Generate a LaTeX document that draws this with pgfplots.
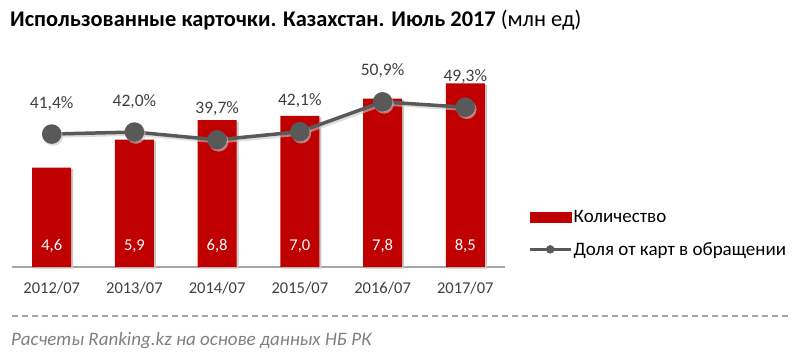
\documentclass[border=0pt]{standalone}
\usepackage{pgfplots}
\pgfplotsset{compat=1.18}
\usepackage{pgfplotstable}
\usepackage{fontspec}
\setmainfont{Carlito}
\definecolor{barred}{HTML}{C00000}
\definecolor{linegrey}{HTML}{595959}
\definecolor{txt}{HTML}{404040}
\definecolor{shadow}{HTML}{C8C8C8}
\pgfplotstableread{
x cnt share
0 4.6 41.4
1 5.9 42.0
2 6.8 39.7
3 7.0 42.1
4 7.8 50.9
5 8.5 49.3
}\data
\begin{document}
\begin{tikzpicture}
\useasboundingbox (0bp,0bp) rectangle (800bp,360bp);
\node[anchor=base west, inner sep=0pt, font=\fontsize{22.4bp}{26bp}\selectfont, text=black] at (10bp,333bp) {\textbf{Использованные карточки. Казахстан. Июль 2017} (млн ед)};
\begin{axis}[
  at={(12bp,93bp)}, anchor=south west, scale only axis,
  width=493bp, height=216bp,
  xmin=-0.48, xmax=5.48, ymin=0, ymax=10,
  axis x line*=bottom, axis y line=none,
  x axis line style={draw=gray!70, line width=1.2bp},
  xtick={0,1,2,3,4,5},
  xticklabels={2012/07,2013/07,2014/07,2015/07,2016/07,2017/07},
  major tick length=0pt,
  xticklabel style={anchor=base, yshift=-26bp, font=\fontsize{16.5bp}{19bp}\selectfont, text=txt},
  /pgf/number format/assume math mode=true,
  clip=false,
  legend style={at={(1.0467,0.155)}, anchor=west, draw=none, fill=none, inner sep=0pt,
    row sep=15bp, font=\fontsize{19bp}{22bp}\selectfont, text=black,
    nodes={inner sep=1.5bp}},
  legend cell align=left,
]
\addplot[ybar, bar width=39bp, fill=shadow, draw=none, xshift=2bp, yshift=-1.5bp, forget plot] table[x=x,y=cnt]{\data};
\addplot[ybar, bar width=39bp, fill=barred, draw=none, forget plot] table[x=x,y=cnt]{\data};
\addplot[draw=none, forget plot, point meta=explicit,
  nodes near coords={\pgfmathprintnumber[fixed,fixed zerofill,precision=1,use comma]{\pgfplotspointmeta}},
  every node near coord/.append style={anchor=base, yshift=17bp, inner sep=0pt, text=white, font=\fontsize{16.5bp}{19bp}\selectfont}]
  table[x=x, y expr=0, meta=cnt]{\data};
\addlegendimage{legend image code/.code={\fill[barred] (0bp,-5bp) rectangle (41bp,5bp);}}
\addlegendentry{Количество}
\addlegendimage{legend image code/.code={\draw[linegrey, line width=3bp] (0bp,0bp)--(41bp,0bp); \fill[linegrey] (20.5bp,0bp) circle (4bp);}}
\addlegendentry{Доля от карт в обращении}
\end{axis}
\begin{axis}[
  at={(12bp,93bp)}, anchor=south west, scale only axis,
  width=493bp, height=216bp,
  xmin=-0.48, xmax=5.48, ymin=2.2, ymax=65.9,
  hide axis, clip=false,
  /pgf/number format/assume math mode=true,
]
\addplot[draw=gray!45, line width=3.5bp, xshift=1.5bp, yshift=-2bp, mark=*, mark size=8bp, mark options={fill=gray!45, draw=none}, opacity=0.6]
  table[x=x,y=share]{\data};
\addplot[linegrey, line width=3.5bp, mark=*, mark size=8bp, mark options={fill=linegrey, draw=none},
  point meta=explicit,
  nodes near coords={\pgfmathprintnumber[fixed,fixed zerofill,precision=1,use comma]{\pgfplotspointmeta}\%},
  every node near coord/.append style={anchor=base, yshift=26bp, inner sep=0pt, text=txt, font=\fontsize{17.5bp}{20bp}\selectfont}]
  table[x=x,y=share,meta=share]{\data};
\end{axis}
\draw[dash pattern=on 6bp off 4bp, draw=gray!70, line width=1.2bp] (12bp,44bp)--(790bp,44bp);
\node[anchor=base west, inner sep=0pt, font=\itshape\fontsize{19bp}{22bp}\selectfont, text=gray] at (11bp,15bp) {Расчеты Ranking.kz на основе данных НБ РК};
\end{tikzpicture}
\end{document}
